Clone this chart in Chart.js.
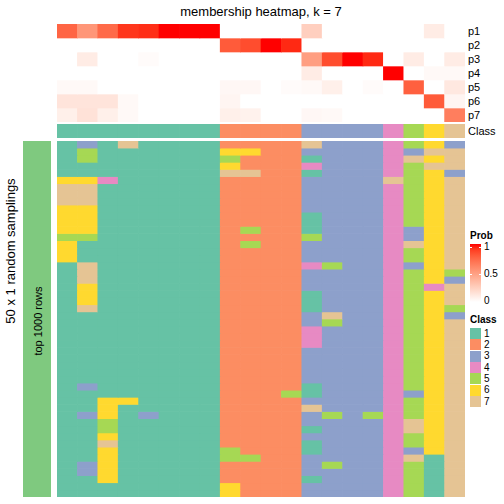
<!DOCTYPE html>
<html>
<head>
<meta charset="utf-8">
<script src="https://cdn.jsdelivr.net/npm/chart.js@4"></script>
<style>
  body { margin: 0; background: #fff; font-family: "Liberation Sans", Arial, sans-serif; }
  #wrap { position: relative; width: 504px; height: 504px; overflow: hidden; }
  canvas, .txt, .box { position: absolute; }
  .txt { white-space: nowrap; color: #000; line-height: 1; }
</style>
</head>
<body>
<div id="wrap">
  <div class="txt" style="left:261px;top:11px;font-size:13px;transform:translate(-50%,-50%)">membership heatmap, k = 7</div>

  <canvas id="probChart" width="408" height="98" style="left:57px;top:24px"></canvas>
  <canvas id="classChart" width="408" height="14" style="left:57px;top:124px"></canvas>
  <canvas id="sampleChart" width="408" height="356" style="left:57px;top:141px"></canvas>

  <div class="box" style="left:23px;top:141px;width:28px;height:356px;background:#7FC97F"></div>
  <div class="txt" style="left:10px;top:251px;font-size:13px;transform:translate(-50%,-50%) rotate(-90deg)">50 x 1 random samplings</div>
  <div class="txt" style="left:38px;top:321px;font-size:11px;transform:translate(-50%,-50%) rotate(-90deg)">top 1000 rows</div>

  <div id="rowLabels"></div>
  <div id="legend"></div>
</div>

<script>
// membership probabilities, one list per class, 20 columns
const p1 = [0.76, 0.54, 0.74, 0.92, 0.94, 1, 1, 1, 0, 0, 0, 0, 0.25, 0, 0, 0, 0, 0, 0.1, 0];
const p2 = [0, 0, 0, 0, 0, 0, 0, 0, 0.8, 0.85, 1, 0.95, 0, 0, 0, 0, 0, 0, 0, 0];
const p3 = [0, 0.1, 0, 0, 0.02, 0, 0, 0, 0, 0, 0, 0, 0.5, 0.85, 1, 0.95, 0, 0.1, 0, 0.1];
const p4 = [0, 0, 0, 0, 0, 0, 0, 0, 0, 0, 0, 0, 0.1, 0, 0, 0, 1, 0, 0.03, 0.03];
const p5 = [0.03, 0.03, 0, 0, 0, 0, 0, 0, 0.04, 0.04, 0, 0.02, 0.03, 0.08, 0, 0.02, 0, 0.78, 0, 0.12];
const p6 = [0.14, 0.14, 0.14, 0.03, 0, 0, 0, 0, 0.05, 0, 0, 0, 0, 0, 0, 0, 0, 0, 0.8, 0.05];
const p7 = [0.08, 0.15, 0.08, 0.03, 0, 0, 0, 0, 0.08, 0.07, 0, 0, 0.04, 0.03, 0, 0, 0, 0, 0, 0.65];
const probRows = ["p1", "p2", "p3", "p4", "p5", "p6", "p7"];

// consensus class of each column
const columnClass = [1, 1, 1, 1, 1, 1, 1, 1, 2, 2, 2, 2, 3, 3, 3, 3, 4, 5, 6, 7];

// class assigned in each of the 50 samplings (one string per sampling, one digit per column)
const samplings = [
  "13171111222273334563",
  "15111111662233334377",
  "15111111522213334767",
  "11111111622243334577",
  "11111111772213334563",
  "66411111222233337567",
  "77111111222233334567",
  "77111111222233334567",
  "77111111222233334567",
  "66111111222233334567",
  "66111111222213334567",
  "66111111222213334567",
  "66111111252213334367",
  "55111111222253334367",
  "61111111252233334767",
  "61111111222233334567",
  "61111111222233334567",
  "17111111222245334367",
  "17111111222233334565",
  "17111111222233334563",
  "16111111222233334547",
  "16111111222213334567",
  "16111111222213334567",
  "17111111222213334565",
  "11111111222237334563",
  "11111111222235334567",
  "11111111222243334567",
  "11111111222243334567",
  "11111111222243334567",
  "11111111222233334567",
  "11111111222233334567",
  "11111111222233334567",
  "11111111222233334567",
  "11111111222233334567",
  "13111111222213334567",
  "11111111222513334367",
  "11661111222233334567",
  "11611111222273334567",
  "13613111222235354567",
  "11511111222233334767",
  "11511111222213334767",
  "11611111222233334567",
  "11711111222213334567",
  "11611111522213334367",
  "11611111552233334717",
  "13611111222235334517",
  "13611111222233334517",
  "11611111222213334517",
  "11111111622233334517",
  "11111111622233334517"
];

const classNames = ["1", "2", "3", "4", "5", "6", "7"];
const classColors = ["#66C2A5", "#FC8D62", "#8DA0CB", "#E78AC3", "#A6D854", "#FFD92F", "#E5C494"];
const probTicks = ["1", "0.5", "0"];

// white -> red ramp interpolated in LAB space
function toLab(rgb) {
  const [r, g, b] = rgb.map(c => { c /= 255; return c <= 0.04045 ? c / 12.92 : Math.pow((c + 0.055) / 1.055, 2.4); });
  const x = (0.4124564 * r + 0.3575761 * g + 0.1804375 * b) / 0.95047;
  const y = 0.2126729 * r + 0.7151522 * g + 0.072175 * b;
  const z = (0.0193339 * r + 0.119192 * g + 0.9503041 * b) / 1.08883;
  const f = t => t > 0.008856 ? Math.cbrt(t) : 7.787 * t + 16 / 116;
  const fx = f(x), fy = f(y), fz = f(z);
  return [116 * fy - 16, 500 * (fx - fy), 200 * (fy - fz)];
}
function fromLab([L, a, bb]) {
  const fy = (L + 16) / 116, fx = fy + a / 500, fz = fy - bb / 200;
  const fi = t => t * t * t > 0.008856 ? t * t * t : (t - 16 / 116) / 7.787;
  const x = fi(fx) * 0.95047, y = fi(fy), z = fi(fz) * 1.08883;
  const r = 3.2404542 * x - 1.5371385 * y - 0.4985314 * z;
  const g = -0.969266 * x + 1.8760108 * y + 0.041556 * z;
  const b = 0.0556434 * x - 0.2040259 * y + 1.0572252 * z;
  const gam = c => { c = c <= 0.0031308 ? 12.92 * c : 1.055 * Math.pow(c, 1 / 2.4) - 0.055; return Math.round(Math.min(1, Math.max(0, c)) * 255); };
  return "rgb(" + gam(r) + "," + gam(g) + "," + gam(b) + ")";
}
const labWhite = toLab([255, 255, 255]);
const labRed = toLab([255, 0, 0]);
const probColor = v => fromLab(labWhite.map((w, i) => w + (labRed[i] - w) * v));

// one floating-bar dataset per heatmap row
function heatmap(id, cellColors) {
  const n = cellColors.length;
  new Chart(document.getElementById(id), {
    type: "bar",
    data: {
      labels: columnClass.map((c, j) => String(j + 1)),
      datasets: cellColors.map((cols, r) => ({
        data: cols.map(() => [r, r + 1]),
        backgroundColor: cols,
        borderWidth: 0,
        grouped: false,
        barPercentage: 1,
        categoryPercentage: 1
      }))
    },
    options: {
      responsive: false,
      animation: false,
      devicePixelRatio: 1,
      layout: { padding: 0 },
      scales: {
        x: { display: false },
        y: { display: false, min: 0, max: n, reverse: true }
      },
      plugins: { legend: { display: false }, tooltip: { enabled: false } }
    }
  });
}

heatmap("probChart", [p1, p2, p3, p4, p5, p6, p7].map(row => row.map(probColor)));
heatmap("classChart", [columnClass.map(c => classColors[c - 1])]);
heatmap("sampleChart", samplings.map(s => s.split("").map(d => classColors[+d - 1])));

// row names on the right of the annotation
const rowLabels = document.getElementById("rowLabels");
probRows.concat(["Class"]).forEach((name, i) => {
  const d = document.createElement("div");
  d.className = "txt";
  d.style.cssText = "left:468px;font-size:11px;transform:translateY(-50%);top:" + (i < 7 ? 31 + i * 14 : 131) + "px";
  d.textContent = name;
  rowLabels.appendChild(d);
});

// legends
const legend = document.getElementById("legend");
let html = '<div class="txt" style="left:470px;top:236px;font-size:10px;font-weight:bold;transform:translateY(-50%)">Prob</div>';
const stops = [];
for (let k = 0; k <= 10; k++) stops.push(probColor(1 - k / 10) + " " + (k * 10) + "%");
html += '<div class="box" style="left:470px;top:244px;width:11px;height:58px;background:linear-gradient(to bottom,' + stops.join(",") + ')"></div>';
[247, 274].forEach(y => {
  html += '<div class="box" style="left:470px;top:' + y + 'px;width:2px;height:1px;background:#fff"></div>';
  html += '<div class="box" style="left:479px;top:' + y + 'px;width:2px;height:1px;background:#fff"></div>';
});
probTicks.forEach((t, i) => {
  html += '<div class="txt" style="left:484px;font-size:10px;transform:translateY(-50%);top:' + [247, 274, 301][i] + 'px">' + t + '</div>';
});
html += '<div class="txt" style="left:470px;top:320px;font-size:10px;font-weight:bold;transform:translateY(-50%)">Class</div>';
classNames.forEach((c, i) => {
  const y = 328 + i * 11.34;
  html += '<div class="box" style="left:470px;top:' + y + 'px;width:11px;height:11px;background:' + classColors[i] + '"></div>';
  html += '<div class="txt" style="left:484px;font-size:10px;transform:translateY(-50%);top:' + (y + 5.7) + 'px">' + c + '</div>';
});
legend.innerHTML = html;
</script>
</body>
</html>
